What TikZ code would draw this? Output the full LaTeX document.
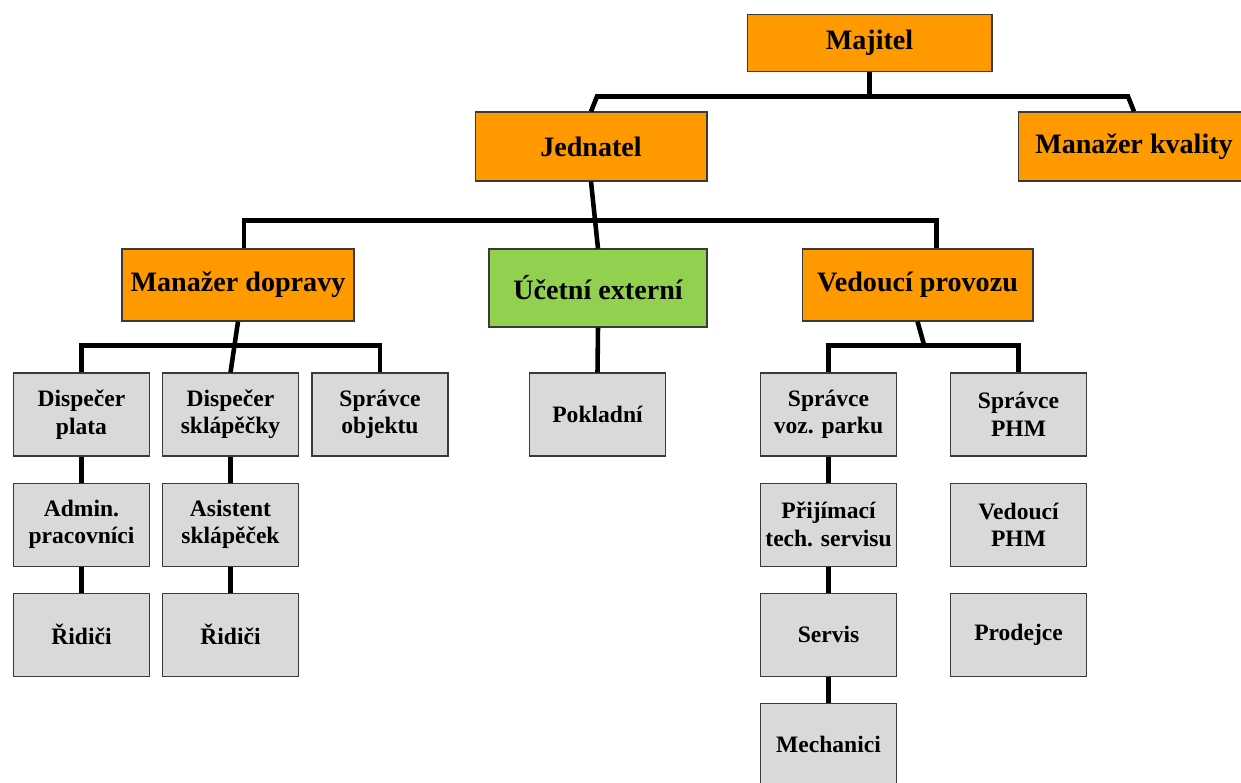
\documentclass[tikz,border=0pt]{standalone}
\usepackage{fontspec}
\setmainfont{Liberation Serif}
\usepackage{tikz}
\usetikzlibrary{positioning,calc}
\definecolor{boxorange}{HTML}{FF9900}
\definecolor{boxgreen}{HTML}{92D050}
\definecolor{boxgray}{HTML}{D9D9D9}
\definecolor{boxline}{HTML}{3A3A3A}
\tikzset{head/.style={
    draw=boxline,
    line width=0.6pt,
    fill=boxorange,
    rectangle,
    inner sep=0pt,
    align=center,
    font=\bfseries\fontsize{16}{19}\selectfont,
  }}
\tikzset{staff/.style={
    draw=boxline,
    line width=0.6pt,
    fill=boxgray,
    rectangle,
    inner sep=0pt,
    minimum width=2.72cm,
    minimum height=1.66cm,
    align=center,
    font=\bfseries\fontsize{13.4}{15.6}\selectfont,
  }}
\tikzset{conn/.style={line width=2.6pt, black}}
\begin{document}
\begin{tikzpicture}[x=0.02cm, y=-0.02cm]
        \useasboundingbox (0,0) rectangle (1241,782);

        % management
        \node (majitel) [head, minimum width=4.9cm, minimum height=1.14cm] at (869.5,43) {Majitel};
        \node (jednatel) [head, minimum width=4.64cm, minimum height=1.38cm] at (591,146.5) {Jednatel};
        \node (kvalita) [head, minimum width=4.64cm, minimum height=1.38cm] at (1134,146.5) {Manažer kvality};
        \node (doprava) [head, minimum width=4.64cm, minimum height=1.44cm] at (238,285) {Manažer dopravy};
        \node (ucetni) [head, fill=boxgreen, minimum width=4.36cm, minimum height=1.56cm] at (598,288) {Účetní externí};
        \node (provoz) [head, minimum width=4.62cm, minimum height=1.44cm] at (917.5,285) {Vedoucí provozu};

        % staff
        \node (dispA) [staff] at (81.5,414.5) {Dispečer\\plata};
        \node (dispB) [staff] at (230.5,414.5) {Dispečer\\sklápěčky};
        \node (objekt) [staff] at (380,414.5) {Správce\\objektu};
        \node (pokladni) [staff] at (597.5,414.5) {Pokladní};
        \node (vozpark) [staff] at (828.5,414.5) {Správce\\voz. parku};
        \node (phm) [staff] at (1018.5,414.5) {Správce\\PHM};

        \node (admin) [staff, below=0.52cm of dispA] {Admin.\\pracovníci};
        \node (ridA) [staff, below=0.52cm of admin] {Řidiči};
        \node (asist) [staff, below=0.52cm of dispB] {Asistent\\sklápěček};
        \node (ridB) [staff, below=0.52cm of asist] {Řidiči};
        \node (prijem) [staff, below=0.52cm of vozpark] {Přijímací\\tech. servisu};
        \node (servis) [staff, below=0.52cm of prijem] {Servis};
        \node (mech) [staff, below=0.52cm of servis] {Mechanici};
        \node (vedphm) [staff, below=0.52cm of phm] {Vedoucí\\PHM};
        \node (prodejce) [staff, below=0.52cm of vedphm] {Prodejce};

        % connectors
        \draw[conn] (majitel.south) -- ++(0,26);
        \draw[conn] (jednatel.north) -- ++(6,-15) -- ($(kvalita.north)+(-6,-15)$) -- (kvalita.north);
        \draw[conn] (jednatel.south) -- (ucetni.north);
        \draw[conn] ($(doprava.north)+(6,0)$) |- ($(provoz.north)+(19,-28)$) -- ++(0,28);
        \draw[conn] (doprava.south) -- (dispB.north);
        \draw[conn] (dispA.north) |- ($(objekt.north)+(0,-27)$) -- (objekt.north);
        \draw[conn] (ucetni.south) -- (pokladni.north);
        \draw[conn] (provoz.south) -- ++(7,25);
        \draw[conn] (vozpark.north) |- ($(phm.north)+(0,-27)$) -- (phm.north);
        \foreach \u/\v in {dispA/admin, admin/ridA, dispB/asist, asist/ridB, vozpark/prijem, prijem/servis, servis/mech}
          \draw[conn] (\u) -- (\v);

      \end{tikzpicture}
\end{document}
